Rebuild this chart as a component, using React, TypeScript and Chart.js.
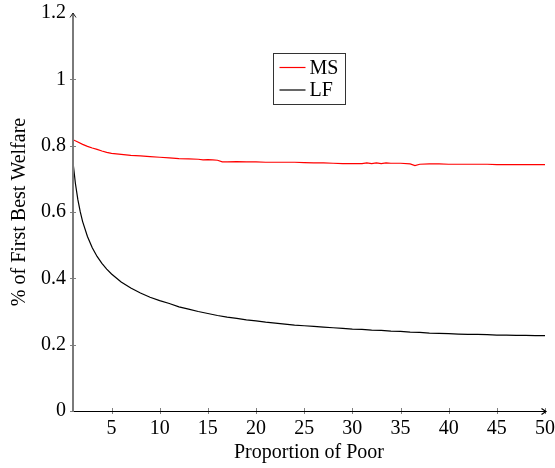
import React, { useEffect, useRef } from "react";
import { Chart, registerables } from "chart.js";

Chart.register(...registerables);

// Proportion of poor (x) and welfare shares for each policy regime
const msX = [1, 1.5, 2, 2.5, 3, 3.5, 4, 4.5, 5, 6, 7, 8, 9, 10, 11, 12, 13, 14, 14.5, 15, 15.5, 16, 16.5, 17, 18, 19, 20, 21, 22, 23, 24, 25, 26, 27, 28, 29, 30, 31, 31.5, 32, 32.5, 33, 33.5, 34, 35, 36, 36.5, 37, 38, 39, 40, 41, 42, 43, 44, 45, 46, 47, 48, 49, 50];
const msY = [0.818, 0.811, 0.804, 0.798, 0.793, 0.789, 0.784, 0.78, 0.777, 0.774, 0.771, 0.769, 0.767, 0.765, 0.763, 0.761, 0.76, 0.759, 0.757, 0.758, 0.757, 0.756, 0.751, 0.751, 0.752, 0.751, 0.751, 0.75, 0.75, 0.75, 0.75, 0.749, 0.748, 0.748, 0.747, 0.746, 0.746, 0.746, 0.748, 0.746, 0.748, 0.746, 0.748, 0.747, 0.747, 0.745, 0.74, 0.744, 0.745, 0.745, 0.744, 0.744, 0.744, 0.744, 0.744, 0.743, 0.743, 0.743, 0.743, 0.743, 0.743];

const lfX = [1, 1.25, 1.5, 1.75, 2, 2.5, 3, 3.5, 4, 4.5, 5, 6, 7, 8, 9, 10, 11, 12, 13, 14, 15, 16, 17, 18, 19, 20, 21, 22, 23, 24, 25, 26, 27, 28, 29, 30, 31, 32, 33, 34, 35, 36, 37, 38, 39, 40, 41, 42, 43, 44, 45, 46, 47, 48, 49, 50];
const lfY = [0.75, 0.686, 0.638, 0.601, 0.571, 0.526, 0.492, 0.466, 0.445, 0.428, 0.413, 0.389, 0.371, 0.356, 0.343, 0.333, 0.324, 0.314, 0.307, 0.3, 0.294, 0.288, 0.283, 0.279, 0.275, 0.272, 0.268, 0.265, 0.262, 0.259, 0.257, 0.255, 0.253, 0.251, 0.249, 0.247, 0.246, 0.244, 0.243, 0.241, 0.24, 0.238, 0.237, 0.235, 0.234, 0.233, 0.232, 0.231, 0.231, 0.23, 0.229, 0.229, 0.228, 0.228, 0.227, 0.227];

const xTicks = [5, 10, 15, 20, 25, 30, 35, 40, 45, 50];
const yTicks = [0, 0.2, 0.4, 0.6, 0.8, 1, 1.2];

const FONT_FAMILY = "'Liberation Serif', 'DejaVu Serif', serif";
const FONT_SIZE = 20;

const toPoints = (xs: number[], ys: number[]) => xs.map((x, i) => ({ x, y: ys[i] }));

// Axis lines with arrow heads and tick marks crossing the axes
const axesPlugin = {
  id: "axesWithArrows",
  afterDatasetsDraw(chart: any) {
    const { ctx, chartArea, scales } = chart;
    const { left, right, top, bottom } = chartArea;
    const xs = scales.x;
    const ys = scales.y;
    ctx.save();

    ctx.strokeStyle = "#808080";
    ctx.lineWidth = 1;
    for (const v of yTicks) {
      if (v >= ys.max) continue;
      const py = Math.round(ys.getPixelForValue(v)) + 0.5;
      ctx.beginPath();
      ctx.moveTo(left - 3, py);
      ctx.lineTo(left + 3, py);
      ctx.stroke();
    }
    for (const v of xTicks) {
      const px = Math.round(xs.getPixelForValue(v)) + 0.5;
      ctx.beginPath();
      ctx.moveTo(px, bottom - 3);
      ctx.lineTo(px, bottom + 3);
      ctx.stroke();
    }

    // horizontal axis
    ctx.strokeStyle = "#000";
    ctx.lineWidth = 1.2;
    ctx.beginPath();
    ctx.moveTo(left, bottom + 0.5);
    ctx.lineTo(right + 1, bottom + 0.5);
    ctx.stroke();
    ctx.beginPath();
    ctx.moveTo(right - 3.5, bottom - 2.5);
    ctx.lineTo(right + 1, bottom + 0.5);
    ctx.lineTo(right - 3.5, bottom + 3.5);
    ctx.stroke();

    // vertical axis
    ctx.strokeStyle = "#7a7a7a";
    ctx.lineWidth = 2;
    ctx.beginPath();
    ctx.moveTo(left, bottom + 1);
    ctx.lineTo(left, top);
    ctx.stroke();
    ctx.strokeStyle = "#222";
    ctx.lineWidth = 1;
    ctx.beginPath();
    ctx.moveTo(left - 3, top + 4.5);
    ctx.lineTo(left, top);
    ctx.lineTo(left + 3, top + 4.5);
    ctx.stroke();

    ctx.restore();
  },
};

// Boxed legend placed inside the plot, centred horizontally near the top
const boxLegendPlugin = {
  id: "boxLegend",
  afterDraw(chart: any) {
    const { ctx, chartArea } = chart;
    const w = 72;
    const h = 51;
    const bx = Math.round((chartArea.left + chartArea.right) / 2 - w / 2) + 0.5;
    const by = Math.round(chartArea.top + 40) + 0.5;
    ctx.save();
    ctx.fillStyle = "#fff";
    ctx.fillRect(bx, by, w, h);
    ctx.strokeStyle = "#333";
    ctx.lineWidth = 1;
    ctx.strokeRect(bx, by, w, h);
    ctx.font = `${FONT_SIZE}px ${FONT_FAMILY}`;
    ctx.textBaseline = "middle";
    ctx.textAlign = "left";
    chart.data.datasets.forEach((ds: any, i: number) => {
      const cy = by + 14 + i * 22.5;
      ctx.strokeStyle = ds.borderColor;
      ctx.lineWidth = 1.2;
      ctx.beginPath();
      ctx.moveTo(bx + 6, cy);
      ctx.lineTo(bx + 32, cy);
      ctx.stroke();
      ctx.fillStyle = "#000";
      ctx.fillText(ds.label, bx + 36, cy + 1);
    });
    ctx.restore();
  },
};

export default function App() {
  const canvasRef = useRef<HTMLCanvasElement | null>(null);

  useEffect(() => {
    if (!canvasRef.current) return;
    const font = { family: FONT_FAMILY, size: FONT_SIZE };
    const chart = new Chart(canvasRef.current, {
      type: "line",
      data: {
        datasets: [
          {
            label: "MS",
            data: toPoints(msX, msY),
            borderColor: "#ff0000",
            borderWidth: 1.2,
            pointRadius: 0,
            tension: 0,
            fill: false,
          },
          {
            label: "LF",
            data: toPoints(lfX, lfY),
            borderColor: "#000000",
            borderWidth: 1.2,
            pointRadius: 0,
            tension: 0,
            fill: false,
          },
        ],
      },
      options: {
        animation: false,
        responsive: false,
        parsing: false,
        layout: { padding: { left: 0, right: 10, top: 13, bottom: 0 } },
        plugins: {
          legend: { display: false },
          tooltip: { enabled: false },
        },
        scales: {
          x: {
            type: "linear",
            min: 1,
            max: 50,
            grid: { display: false, drawTicks: false },
            border: { display: false },
            ticks: { font, color: "#000", padding: 6, autoSkip: false, maxRotation: 0 },
            afterBuildTicks: (axis: any) => {
              axis.ticks = xTicks.map((v) => ({ value: v }));
            },
            afterFit: (axis: any) => {
              axis.height = 57;
              axis.paddingLeft = 0;
              axis.paddingRight = 0;
            },
            title: {
              display: true,
              text: "Proportion of Poor",
              font,
              color: "#000",
              padding: { top: 0, bottom: 3 },
            },
          },
          y: {
            type: "linear",
            min: 0,
            max: 1.2,
            grid: { display: false, drawTicks: false },
            border: { display: false },
            ticks: {
              font,
              color: "#000",
              padding: 7,
              callback: (v: any) => String(v),
            },
            afterBuildTicks: (axis: any) => {
              axis.ticks = yTicks.map((v) => ({ value: v }));
            },
            afterFit: (axis: any) => {
              axis.width = 73;
              axis.paddingTop = 0;
              axis.paddingBottom = 0;
            },
            title: {
              display: true,
              text: "% of First Best Welfare",
              font,
              color: "#000",
              padding: { top: 8, bottom: 0 },
            },
          },
        },
      },
      plugins: [axesPlugin, boxLegendPlugin],
    } as any);
    return () => chart.destroy();
  }, []);

  return (
    <div style={{ position: "absolute", left: 0, top: 0, width: 555, height: 468 }}>
      <canvas ref={canvasRef} width={555} height={468} style={{ display: "block" }} />
    </div>
  );
}
